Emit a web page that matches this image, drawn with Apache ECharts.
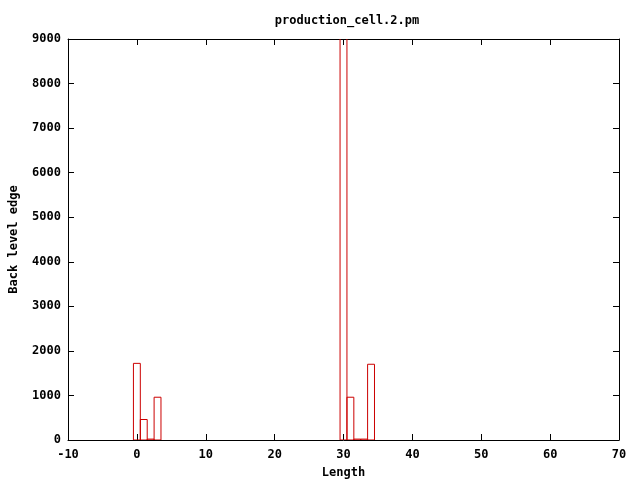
<!DOCTYPE html>
<html>
<head>
<meta charset="utf-8">
<script src="https://cdn.jsdelivr.net/npm/echarts@6/dist/echarts.min.js"></script>
<style>html,body{margin:0;padding:0;background:#fff;}#c{width:640px;height:480px;}</style>
</head>
<body>
<div id="c"></div>
<script>
var lengths = [0, 1, 2, 3, 30, 31, 32, 33, 34];
var counts = [1720, 460, 20, 960, 9300, 960, 20, 20, 1700];
var boxWidth = 1;
var title = 'production_cell.2.pm';
var xName = 'Length';
var yName = 'Back level edge';

var font = '"DejaVu Sans Mono", "Liberation Mono", monospace';
var chart = echarts.init(document.getElementById('c'), null, {renderer: 'canvas'});
var data = lengths.map(function (x, i) { return [x, counts[i]]; });

function plain(v) { return String(v); }

function axisCommon(show, margin) {
  return {
    axisLine: {show: true, onZero: false, lineStyle: {color: '#000', width: 1}},
    axisTick: {show: true, inside: true, length: 6, lineStyle: {color: '#000'}},
    splitLine: {show: false},
    axisLabel: {show: show, color: '#000', fontFamily: font, fontWeight: 'bold', fontSize: 12,
      margin: margin || 8, formatter: plain}
  };
}

var option = {
  animation: false,
  backgroundColor: '#fff',
  title: {
    text: title, left: 342, top: 10, textAlign: 'center',
    textStyle: {fontFamily: font, fontWeight: 'bold', fontSize: 12, color: '#000'}
  },
  grid: {left: 68, right: 21, top: 39, bottom: 40, containLabel: false, outerBoundsMode: 'none'},
  xAxis: [
    Object.assign({type: 'value', min: -10, max: 70, interval: 10, position: 'bottom',
      name: xName, nameLocation: 'middle', nameGap: 27,
      nameTextStyle: {fontFamily: font, fontWeight: 'bold', fontSize: 12, color: '#000'}}, axisCommon(true, 9)),
    Object.assign({type: 'value', min: -10, max: 70, interval: 10, position: 'top'}, axisCommon(false))
  ],
  yAxis: [
    Object.assign({type: 'value', min: 0, max: 9000, interval: 1000, position: 'left',
      name: yName, nameLocation: 'middle', nameGap: 48, nameRotate: 90,
      nameTextStyle: {fontFamily: font, fontWeight: 'bold', fontSize: 12, color: '#000'}}, axisCommon(true, 7)),
    Object.assign({type: 'value', min: 0, max: 9000, interval: 1000, position: 'right'}, axisCommon(false))
  ],
  series: [{
    type: 'custom',
    xAxisIndex: 0, yAxisIndex: 0,
    clip: true,
    data: data,
    renderItem: function (params, api) {
      var x = api.value(0), y = api.value(1);
      var p0 = api.coord([x - boxWidth / 2, 0]);
      var p1 = api.coord([x + boxWidth / 2, y]);
      var rect = {x: p0[0], y: p1[1], width: p1[0] - p0[0], height: p0[1] - p1[1]};
      var cs = params.coordSys;
      var clipped = echarts.graphic.clipRectByRect(rect, {x: cs.x, y: cs.y - 5, width: cs.width, height: cs.height + 5});
      return {
        type: 'rect',
        shape: clipped || rect,
        style: {fill: 'none', stroke: '#cc0000', lineWidth: 1}
      };
    }
  }]
};
chart.setOption(option);
</script>
</body>
</html>
